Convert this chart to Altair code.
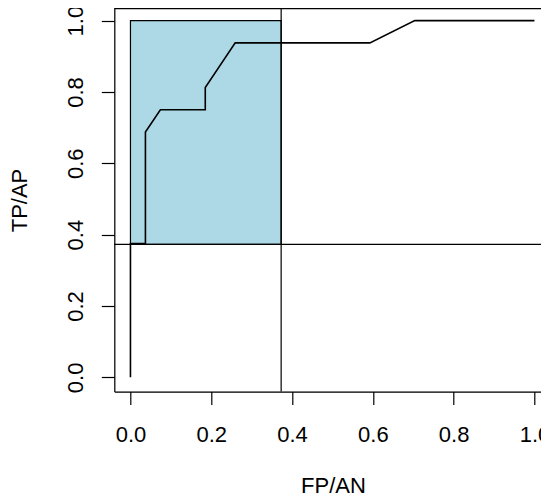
import altair as alt
import pandas as pd

# ROC curve points (FP/AN, TP/AP)
fpr = [0.0, 0.0, 1/27, 1/27, 2/27, 5/27, 5/27, 7/27, 16/27, 19/27, 1.0]
tpr = [0.0, 6/16, 6/16, 11/16, 12/16, 12/16, 13/16, 15/16, 15/16, 1.0, 1.0]
threshold = [0.373]
ticks = [0.0, 0.2, 0.4, 0.6, 0.8, 1.0]

roc = pd.DataFrame({"fpr": fpr, "tpr": tpr, "order": list(range(len(fpr)))})
thr = pd.DataFrame({"t": threshold})
box = pd.DataFrame({"x1": [0.0], "x2": threshold, "y1": threshold, "y2": [1.0]})

xdom = [-0.04, 1.0162]
ydom = [-0.04, 1.0354]
FONT = "Liberation Sans"

xscale = alt.Scale(domain=xdom, nice=False, zero=False)
yscale = alt.Scale(domain=ydom, nice=False, zero=False)

xaxis = alt.Axis(
    values=ticks, format=".1f", title="FP/AN", grid=False,
    tickSize=13, tickColor="black", tickWidth=1.2,
    domainColor="black", domainWidth=1.2,
    labelFont=FONT, labelFontSize=22, labelColor="black",
    labelBaseline="alphabetic", labelPadding=37, labelOverlap=False,
    titleFont=FONT, titleFontSize=22, titleFontWeight="normal", titleColor="black",
    titleBaseline="alphabetic", titleAlign="center", titleX=218.7, titleY=100.4,
)
yaxis = alt.Axis(
    values=ticks, format=".1f", title="TP/AP", grid=False,
    tickSize=13, tickColor="black", tickWidth=1.2,
    domainColor="black", domainWidth=1.2,
    labelFont=FONT, labelFontSize=22, labelColor="black",
    labelAngle=270, labelAlign="center", labelBaseline="alphabetic",
    labelPadding=19.3, labelOverlap=False,
    titleFont=FONT, titleFontSize=22, titleFontWeight="normal", titleColor="black",
    titleAngle=270, titleBaseline="alphabetic", titleAlign="center",
    titleX=-88.3, titleY=192,
)

rect = alt.Chart(box).mark_rect(
    fill="#ADD8E6", stroke="black", strokeWidth=1.2
).encode(
    x=alt.X("x1:Q", scale=xscale, axis=xaxis),
    x2="x2:Q",
    y=alt.Y("y1:Q", scale=yscale, axis=yaxis),
    y2="y2:Q",
)

vline = alt.Chart(thr).mark_rule(color="black", strokeWidth=1.2).encode(
    x=alt.X("t:Q", scale=xscale)
)
hline = alt.Chart(thr).mark_rule(color="black", strokeWidth=1.2).encode(
    y=alt.Y("t:Q", scale=yscale)
)
topline = alt.Chart(thr).mark_rule(color="black", strokeWidth=1.2).encode(
    y=alt.value(0.6)
)

curve = alt.Chart(roc).mark_line(color="black", strokeWidth=1.6).encode(
    x=alt.X("fpr:Q", scale=xscale),
    y=alt.Y("tpr:Q", scale=yscale),
    order="order:Q",
)

chart = alt.layer(rect, vline, hline, topline, curve).properties(
    width=426.7, height=383.6,
    autosize=alt.AutoSizeParams(type="none"),
    padding={"left": 106.3, "top": 0, "right": 0, "bottom": 101.4},
).configure_view(stroke=None).configure(background="white")

chart.save("out.html", embed_options={"renderer": "svg", "actions": False})
